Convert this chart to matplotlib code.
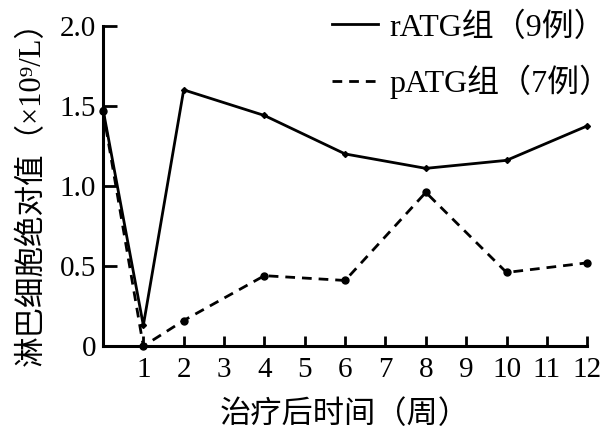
import matplotlib
import matplotlib.pyplot as plt
matplotlib.use('Agg')

plt.rcParams['font.family'] = ['Liberation Serif', 'Noto Sans CJK SC']

weeks_r = [0, 1, 2, 4, 6, 8, 10, 12]
ratg = [1.48, 0.13, 1.60, 1.44, 1.20, 1.11, 1.16, 1.375]
weeks_p = [0, 1, 2, 4, 6, 8, 10, 12]
patg = [1.47, 0.0, 0.16, 0.44, 0.41, 0.96, 0.46, 0.52]
xticks = list(range(1, 13))
yticks = [0, 0.5, 1.0, 1.5, 2.0]
ytick_labels = ['0', '0.5', '1.0', '1.5', '2.0']

fig = plt.figure(figsize=(6.13, 4.30), dpi=100)
ax = fig.add_axes([0.168, 0.195, 0.79, 0.745])

ax.plot(weeks_r, ratg, color='black', lw=2.0, marker='D', ms=3,
        label='rATG组（9例）', clip_on=False)
ax.plot(weeks_p, patg, color='black', lw=2.0, ls=(0, (3.5, 2.5)), marker='o', ms=5,
        label='pATG组（7例）', clip_on=False)

ax.set_xlim(0, 12)
ax.set_ylim(0, 2.0)
ax.set_xticks(xticks)
ax.set_yticks(yticks)
ax.set_yticklabels(ytick_labels)
ax.tick_params(direction='in', width=2, labelsize=21)
ax.tick_params(axis='y', length=10, pad=5)
ax.tick_params(axis='x', length=7, pad=8)
for s in ['top', 'right']:
    ax.spines[s].set_visible(False)
for s in ['left', 'bottom']:
    ax.spines[s].set_linewidth(2.2)

ax.set_xlabel('治疗后时间（周）', fontsize=22.5, labelpad=12)
ax.set_ylabel('淋巴细胞绝对值（×10⁹/L）', fontsize=22, labelpad=9)

leg = ax.legend(loc='upper right', bbox_to_anchor=(0.998, 0.972),
                bbox_transform=fig.transFigure, frameon=False,
                fontsize=23, handlelength=1.45, labelspacing=0.7, handletextpad=0.35,
                borderaxespad=0.0, borderpad=0.0, markerscale=0)

plt.savefig('out.png', dpi=100)
plt.close()
